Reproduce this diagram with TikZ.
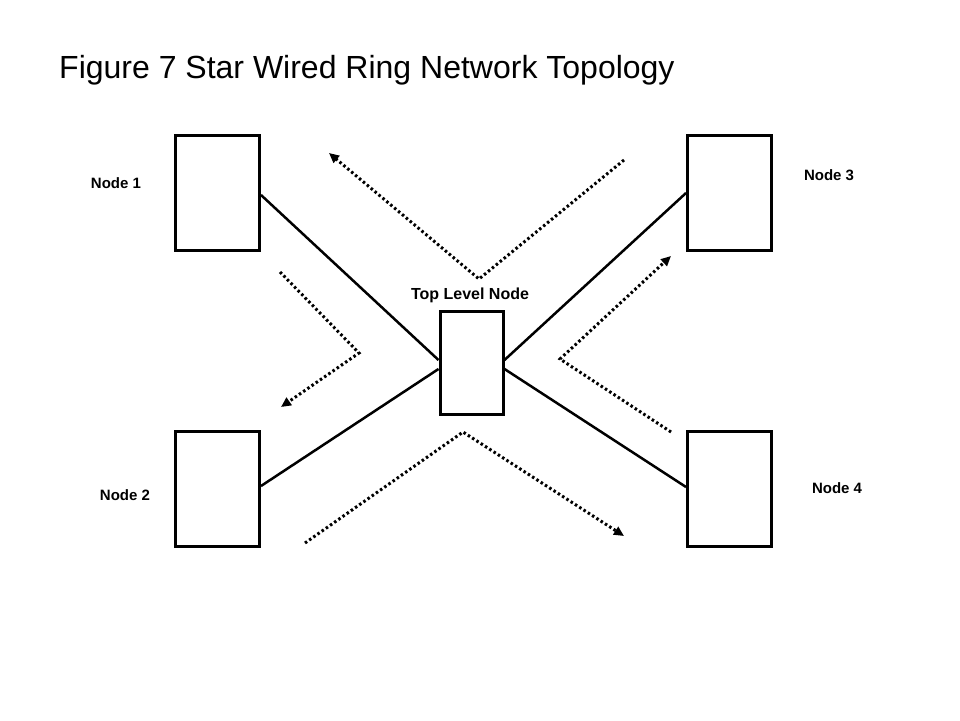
\documentclass[tikz,border=0pt]{standalone}
\usepackage{fontspec}
\setmainfont{Liberation Sans}
\usetikzlibrary{arrows.meta}
\begin{document}
\begin{tikzpicture}[x=1pt,y=-1pt,
  box/.style={draw,line width=3pt,minimum width=84pt,minimum height=115pt,inner sep=0pt},
  hub/.style={draw,line width=3pt,minimum width=63pt,minimum height=103pt,inner sep=0pt},
  lbl/.style={font=\fontsize{15}{18}\selectfont\bfseries,inner sep=0pt},
  link/.style={line width=2.5pt},
  flow/.style={line width=3pt,dash pattern=on 2.5pt off 2.6pt,-{Triangle[length=10pt,width=9pt]}}]
\useasboundingbox (0,0) rectangle (960,720);
\node[anchor=west,inner sep=0pt,font=\fontsize{32}{36}\selectfont] (title) at (59,70) {Figure 7 Star Wired Ring Network Topology};
\node[box] (n1) at (217.5,192.5) {};
\node[box] (n3) at (729.5,192.5) {};
\node[box] (n2) at (217.5,489) {};
\node[box] (n4) at (729.5,489) {};
\node[hub] (top) at (471.5,362.5) {};
\node[lbl] (l1) at (116,183) {Node 1};
\node[lbl] (l3) at (829,175) {Node 3};
\node[lbl] (l2) at (125,495) {Node 2};
\node[lbl] (l4) at (837,488) {Node 4};
\node[lbl,font=\fontsize{16}{19}\selectfont\bfseries] (lt) at (470,295) {Top Level Node};
\draw[link] (n1.east |- 0,195) -- (top.west |- 0,360);
\draw[link] (n2.east |- 0,486) -- (top.west |- 0,369);
\draw[link] (n3.west |- 0,193) -- (top.east |- 0,360);
\draw[link] (n4.west |- 0,487) -- (top.east |- 0,369);
\coordinate (a1) at (624,160); \coordinate (a2) at (479,279); \coordinate (a3) at (329,153);
\coordinate (b1) at (280,272); \coordinate (b2) at (359,353); \coordinate (b3) at (281,407);
\coordinate (c1) at (671,432); \coordinate (c2) at (560,359); \coordinate (c3) at (671,256);
\coordinate (d1) at (305,543); \coordinate (d2) at (463,432); \coordinate (d3) at (624,536);
\draw[flow] (a1) -- (a2) -- (a3);
\draw[flow] (b1) -- (b2) -- (b3);
\draw[flow] (c1) -- (c2) -- (c3);
\draw[flow] (d1) -- (d2) -- (d3);
\end{tikzpicture}
\end{document}
